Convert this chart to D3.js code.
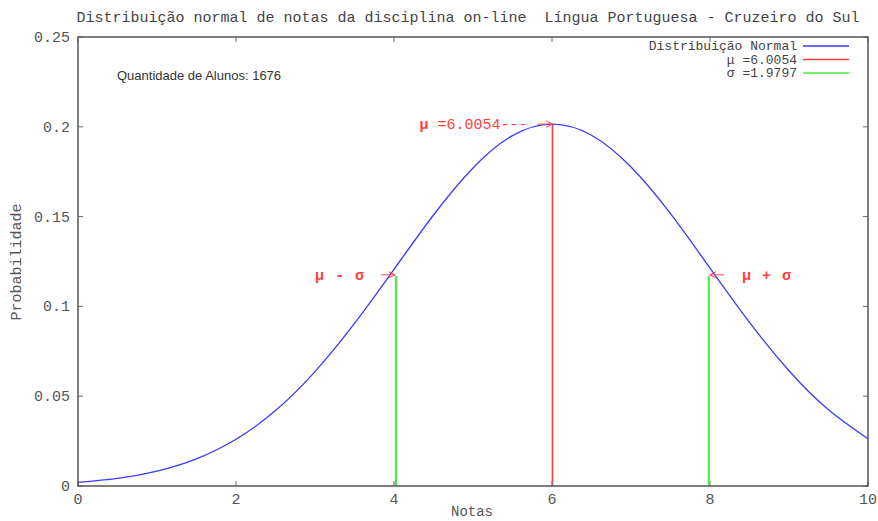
<!DOCTYPE html>
<html>
<head>
<meta charset="utf-8">
<script src="https://cdn.jsdelivr.net/npm/d3@7"></script>
<style>
  body { margin: 0; background: #fff; }
  text { font-family: "Liberation Mono", "DejaVu Sans Mono", monospace; white-space: pre; }
</style>
</head>
<body>
<div class="chart"></div>
<script>
// notas (eixo x) e probabilidade
var notas = [0, 0.5, 1, 1.5, 2, 2.5, 3, 3.5, 4, 4.5, 5, 5.5, 6, 6.5, 7, 7.5, 8, 8.5, 9, 9.5, 10];
var probabilidade = [0.0020, 0.0042, 0.0083, 0.0151, 0.0260, 0.0420, 0.0637, 0.0905, 0.1206, 0.1509, 0.1771,
  0.1951, 0.2015, 0.1953, 0.1776, 0.1516, 0.1213, 0.0911, 0.0642, 0.0424, 0.0263];
var xTicks = [0, 2, 4, 6, 8, 10];
var yTicks = [0, 0.05, 0.1, 0.15, 0.2, 0.25];
var mu = 6.0054;
var sigma = 1.9797;
var picoMu = 0.2015;
var alturaSigma = 0.117;
var alunos = 1676;

var W = 878, H = 521;
var margin = {top: 37, right: 10, bottom: 35, left: 78};

var svg = d3.select(".chart")
  .append("svg")
    .attr("width", W)
    .attr("height", H);

var x = d3.scaleLinear().domain([0, 10]).range([margin.left, W - margin.right]);
var y = d3.scaleLinear().domain([0, 0.25]).range([H - margin.bottom, margin.top]);

var defs = svg.append("defs");
defs.append("marker")
  .attr("id", "seta")
  .attr("viewBox", "0 -5 10 10")
  .attr("refX", 9)
  .attr("refY", 0)
  .attr("markerWidth", 8)
  .attr("markerHeight", 8)
  .attr("markerUnits", "userSpaceOnUse")
  .attr("orient", "auto")
  .append("path")
    .attr("d", "M1,-4L9,0L1,4")
    .attr("fill", "none")
    .attr("stroke", "#ff4040")
    .attr("stroke-width", 1.2);

// title
svg.append("text")
  .attr("x", 468)
  .attr("y", 22)
  .attr("text-anchor", "middle")
  .attr("fill", "#444")
  .style("font-size", "15px")
  .text("Distribuição normal de notas da disciplina on-line  Língua Portuguesa - Cruzeiro do Sul");

// ticks, inward on all four sides
var tickLen = 5;
var frame = svg.append("g").attr("stroke", "#666").attr("stroke-width", 1);
xTicks.forEach(function(t) {
  frame.append("line").attr("x1", x(t)).attr("x2", x(t)).attr("y1", y(0)).attr("y2", y(0) - tickLen);
  frame.append("line").attr("x1", x(t)).attr("x2", x(t)).attr("y1", y(0.25)).attr("y2", y(0.25) + tickLen);
});
yTicks.forEach(function(t) {
  frame.append("line").attr("x1", x(0)).attr("x2", x(0) + tickLen).attr("y1", y(t)).attr("y2", y(t));
  frame.append("line").attr("x1", x(10)).attr("x2", x(10) - tickLen).attr("y1", y(t)).attr("y2", y(t));
});

svg.selectAll(".xlab")
  .data(xTicks)
  .enter().append("text")
    .attr("x", function(d) { return x(d); })
    .attr("y", y(0) + 18)
    .attr("text-anchor", "middle")
    .attr("fill", "#555")
    .style("font-size", "15px")
    .text(function(d) { return d; });

svg.selectAll(".ylab")
  .data(yTicks)
  .enter().append("text")
    .attr("x", x(0) - 8)
    .attr("y", function(d) { return y(d) + 5; })
    .attr("text-anchor", "end")
    .attr("fill", "#555")
    .style("font-size", "15px")
    .text(function(d) { return d; });

svg.append("text")
  .attr("x", 472)
  .attr("y", 516)
  .attr("text-anchor", "middle")
  .attr("fill", "#555")
  .style("font-size", "14px")
  .text("Notas");

svg.append("text")
  .attr("transform", "translate(21,262) rotate(-90)")
  .attr("text-anchor", "middle")
  .attr("fill", "#555")
  .style("font-size", "15px")
  .text("Probabilidade");

svg.append("text")
  .attr("x", 117)
  .attr("y", 80)
  .attr("fill", "#333")
  .style("font-family", "Liberation Sans, Arial, sans-serif")
  .style("font-size", "13px")
  .text("Quantidade de Alunos: " + alunos);

// vertical markers
svg.append("line")
  .attr("x1", x(mu)).attr("x2", x(mu))
  .attr("y1", y(0)).attr("y2", y(picoMu))
  .attr("stroke", "#ff4040")
  .attr("stroke-width", 1.5);
[mu - sigma, mu + sigma].forEach(function(v) {
  svg.append("line")
    .attr("x1", x(v)).attr("x2", x(v))
    .attr("y1", y(0)).attr("y2", y(alturaSigma))
    .attr("stroke", "#40ee40")
    .attr("stroke-width", 2);
});

// curve
var line = d3.line()
  .x(function(d, i) { return x(notas[i]); })
  .y(function(d) { return y(d); })
  .curve(d3.curveNatural);
svg.append("path")
  .datum(probabilidade)
  .attr("d", line)
  .attr("fill", "none")
  .attr("stroke", "#3a3aff")
  .attr("stroke-width", 1.3);

// annotations
svg.append("line")
  .attr("x1", x(mu) - 15).attr("x2", x(mu))
  .attr("y1", y(picoMu)).attr("y2", y(picoMu))
  .attr("stroke", "#ff4040")
  .attr("marker-end", "url(#seta)");
var tMu = svg.append("text")
  .attr("x", x(mu) - 25)
  .attr("y", y(picoMu) + 5)
  .attr("text-anchor", "end")
  .attr("fill", "#ff4040")
  .style("font-size", "15px");
tMu.append("tspan").style("font-weight", "bold").text("μ");
tMu.append("tspan").text(" =" + mu + "---");

svg.append("line")
  .attr("x1", x(mu - sigma) - 15).attr("x2", x(mu - sigma) - 1)
  .attr("y1", y(alturaSigma) - 1).attr("y2", y(alturaSigma) - 1)
  .attr("stroke", "#ff4040")
  .attr("marker-end", "url(#seta)");
svg.append("text")
  .attr("x", 315)
  .attr("y", y(alturaSigma) + 4)
  .attr("fill", "#ff4040")
  .style("font-size", "15px")
  .style("font-weight", "bold")
  .style("letter-spacing", "1px")
  .text("μ - σ");

svg.append("line")
  .attr("x1", x(mu + sigma) + 15).attr("x2", x(mu + sigma) + 1)
  .attr("y1", y(alturaSigma) - 1).attr("y2", y(alturaSigma) - 1)
  .attr("stroke", "#ff4040")
  .attr("marker-end", "url(#seta)");
svg.append("text")
  .attr("x", 742)
  .attr("y", y(alturaSigma) + 4)
  .attr("fill", "#ff4040")
  .style("font-size", "15px")
  .style("font-weight", "bold")
  .style("letter-spacing", "1px")
  .text("μ + σ");

// legend
var legenda = [
  {nome: "Distribuição Normal", cor: "#3a3aff"},
  {nome: "μ =" + mu, cor: "#ff4040"},
  {nome: "σ =" + sigma, cor: "#40ee40"}
];
legenda.forEach(function(d, i) {
  var ly = 46 + i * 13.5;
  svg.append("text")
    .attr("x", 797)
    .attr("y", ly + 4)
    .attr("text-anchor", "end")
    .attr("fill", "#444")
    .style("font-size", "13px")
    .text(d.nome);
  svg.append("line")
    .attr("x1", 803).attr("x2", 849)
    .attr("y1", ly).attr("y2", ly)
    .attr("stroke", d.cor)
    .attr("stroke-width", 1.3);
});

// frame
svg.append("rect")
  .attr("x", x(0))
  .attr("y", y(0.25))
  .attr("width", x(10) - x(0))
  .attr("height", y(0) - y(0.25))
  .attr("fill", "none")
  .attr("stroke", "#555")
  .attr("stroke-width", 1.5);
</script>
</body>
</html>
